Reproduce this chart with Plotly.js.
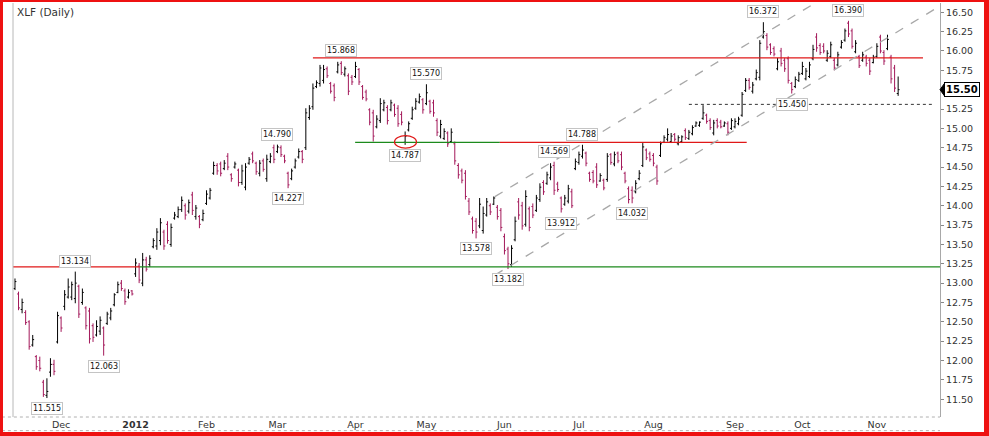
<!DOCTYPE html>
<html>
<head>
<meta charset="utf-8">
<script src="https://cdn.plot.ly/plotly-3.0.1.min.js"></script>
<style>
html,body{margin:0;padding:0;background:#fff;}
#wrap{position:relative;width:989px;height:436px;overflow:hidden;}
#chart{position:absolute;left:0;top:0;width:989px;height:436px;}
#frame{position:absolute;left:0;top:0;width:989px;height:436px;box-sizing:border-box;border-style:solid;border-color:#ee1111;border-width:2px 5px 4px 3px;pointer-events:none;}
</style>
</head>
<body>
<div id="wrap"><div id="chart"></div><div id="frame"></div></div>
<script>
// ---- data (XLF daily, 2011-11-11 .. 2012-11-09) ----
const symbolTitle = "XLF (Daily)";
const firstDay = "2011-11-11";
const lastDay = "2012-11-09";
const holidays = ["2011-11-24","2011-12-26","2012-01-02","2012-01-16","2012-02-20","2012-04-06","2012-05-28","2012-07-04","2012-09-03","2012-10-29","2012-10-30"];
const monthNames = ["Jan","Feb","Mar","Apr","May","Jun","Jul","Aug","Sep","Oct","Nov","Dec"];

const openP = [
12.93,12.86,12.66,12.62,12.50,12.20,12.05,12.00,11.72,11.55,11.85,11.95,12.24,12.55,12.70,12.82,12.82,12.80,12.96,12.75,
12.68,12.64,12.45,12.33,12.38,12.42,12.48,12.55,12.72,12.88,13.00,12.90,12.82,12.90,13.12,13.22,13.00,13.30,13.24,13.47,
13.48,13.55,13.66,13.76,13.50,13.84,13.86,13.95,14.00,13.93,14.14,13.86,13.86,13.82,14.03,14.10,14.42,14.52,14.54,14.48,
14.64,14.40,14.50,14.46,14.30,14.24,14.55,14.67,14.55,14.42,14.58,14.35,14.57,14.75,14.70,14.75,14.64,14.42,14.35,14.50,
14.63,14.70,14.75,15.14,15.28,15.54,15.58,15.62,15.77,15.58,15.55,15.73,15.84,15.70,15.68,15.66,15.67,15.76,15.54,15.47,
15.24,15.20,15.02,15.10,15.24,15.27,15.24,15.30,15.26,15.18,14.82,14.98,15.13,15.26,15.34,15.37,15.32,15.35,15.33,15.10,
14.90,14.87,14.94,14.83,14.80,14.52,14.45,14.42,14.06,13.83,13.80,13.74,13.68,13.88,14.00,14.02,13.98,13.94,13.60,13.44,
13.24,13.56,14.05,14.00,13.76,13.96,13.99,13.94,14.08,14.30,14.29,14.36,14.52,14.28,14.10,14.02,14.06,14.18,14.48,14.56,
14.64,14.68,14.42,14.43,14.50,14.32,14.33,14.34,14.66,14.54,14.68,14.66,14.42,14.22,14.20,14.18,14.35,14.52,14.72,14.67,
14.65,14.50,14.65,14.82,14.86,14.83,14.92,14.80,14.83,14.97,14.87,14.93,15.03,15.04,15.13,15.17,15.10,14.94,15.10,15.08,
15.03,15.06,15.00,15.02,15.06,15.17,15.49,15.62,15.48,15.64,15.66,16.18,16.20,16.08,16.03,15.77,16.00,15.88,15.90,15.58,
15.54,15.62,15.71,15.64,15.67,15.90,16.18,16.07,16.06,15.88,15.93,15.88,15.82,16.05,16.14,16.36,16.26,15.99,15.93,15.88,
15.92,15.88,15.85,15.93,16.18,15.98,16.03,15.92,15.78,15.45
];
const highP = [
13.06,12.89,12.80,12.65,12.52,12.33,12.07,12.05,11.75,11.77,12.03,12.01,12.63,12.57,12.91,13.06,13.02,13.149,12.98,12.93,
12.70,12.68,12.48,12.52,12.57,12.44,12.63,12.68,12.87,13.02,13.04,12.93,12.92,12.91,13.32,13.26,13.39,13.34,13.36,13.58,
13.71,13.84,13.69,13.80,13.77,13.92,13.99,14.12,14.03,14.08,14.18,14.01,13.88,13.95,14.20,14.23,14.57,14.55,14.57,14.59,
14.68,14.42,14.57,14.48,14.53,14.55,14.63,14.70,14.57,14.59,14.61,14.66,14.68,14.79,14.79,14.78,14.66,14.44,14.48,14.61,
14.74,14.72,15.26,15.30,15.58,15.62,15.82,15.82,15.80,15.60,15.58,15.86,15.868,15.80,15.71,15.69,15.86,15.78,15.56,15.50,
15.26,15.24,15.17,15.39,15.37,15.30,15.37,15.32,15.30,15.22,14.96,15.09,15.28,15.39,15.45,15.39,15.57,15.37,15.37,15.13,
15.11,15.00,14.96,15.00,14.83,14.55,14.48,14.46,14.10,13.86,13.84,14.10,13.99,14.10,14.03,14.12,14.01,13.97,13.64,13.47,
13.49,13.86,14.10,14.05,14.20,13.99,14.03,14.14,14.29,14.33,14.44,14.55,14.569,14.31,14.12,14.14,14.27,14.22,14.61,14.70,
14.788,14.70,14.44,14.46,14.55,14.42,14.35,14.68,14.68,14.70,14.70,14.70,14.44,14.25,14.25,14.33,14.46,14.81,14.74,14.70,
14.68,14.53,14.83,14.91,15.00,14.94,14.94,14.91,14.91,15.00,14.98,15.04,15.09,15.09,15.30,15.19,15.13,15.11,15.13,15.11,
15.09,15.09,15.13,15.13,15.15,15.47,15.65,15.65,15.60,15.76,16.14,16.372,16.23,16.10,16.06,15.91,16.04,15.91,15.93,15.60,
15.67,15.73,15.86,15.78,15.86,16.08,16.23,16.10,16.10,16.01,16.12,15.91,15.99,16.14,16.29,16.39,16.29,16.14,15.95,15.99,
15.95,15.91,15.95,16.10,16.21,16.01,16.21,15.95,15.82,15.67
];
const lowP = [
12.91,12.65,12.61,12.46,12.14,12.18,11.88,11.86,11.53,11.515,11.79,11.81,12.22,12.37,12.65,12.80,12.78,12.74,12.55,12.72,
12.40,12.22,12.24,12.31,12.33,12.063,12.46,12.52,12.70,12.87,12.90,12.72,12.80,12.84,13.08,13.00,12.96,13.15,13.21,13.45,
13.43,13.49,13.43,13.51,13.47,13.82,13.84,13.92,13.82,13.90,13.88,13.82,13.71,13.80,14.01,14.08,14.40,14.40,14.38,14.46,
14.46,14.31,14.48,14.25,14.27,14.20,14.53,14.55,14.40,14.38,14.44,14.31,14.55,14.55,14.68,14.63,14.55,14.227,14.33,14.48,
14.61,14.55,14.72,15.11,15.24,15.52,15.54,15.58,15.65,15.45,15.35,15.71,15.69,15.67,15.43,15.56,15.65,15.56,15.37,15.35,
15.04,14.83,15.00,15.07,15.22,15.05,15.22,15.15,15.02,15.04,14.787,14.96,15.11,15.24,15.32,15.19,15.30,15.19,15.15,14.90,
14.87,14.85,14.76,14.81,14.53,14.35,14.29,14.08,13.88,13.64,13.578,13.71,13.64,13.86,13.88,14.01,13.82,13.67,13.37,13.182,
13.21,13.54,13.82,13.69,13.73,13.67,13.84,13.92,14.05,14.14,14.27,14.33,14.14,14.18,13.912,14.00,14.03,13.97,14.46,14.53,
14.61,14.51,14.31,14.29,14.23,14.31,14.20,14.31,14.53,14.51,14.55,14.46,14.29,14.03,14.032,14.16,14.33,14.50,14.59,14.57,
14.51,14.27,14.63,14.81,14.83,14.81,14.83,14.78,14.81,14.85,14.85,14.91,15.02,15.02,15.11,15.06,14.98,14.91,15.00,15.00,
15.02,14.91,14.98,15.00,15.04,15.15,15.47,15.50,15.45,15.62,15.62,16.16,16.01,15.95,15.93,15.75,15.80,15.73,15.58,15.45,
15.52,15.60,15.69,15.62,15.65,15.88,15.99,15.95,15.97,15.86,15.91,15.75,15.80,16.03,16.12,16.18,16.03,15.97,15.78,15.86,
15.80,15.69,15.84,15.91,15.97,15.82,16.01,15.58,15.47,15.42
];
const closeP = [
13.02,12.68,12.75,12.49,12.18,12.27,11.92,11.90,11.56,11.60,11.95,11.86,12.58,12.42,12.85,12.95,12.98,13.00,12.60,12.88,
12.45,12.28,12.30,12.44,12.52,12.20,12.60,12.64,12.85,12.98,12.93,12.76,12.88,12.86,13.26,13.04,13.30,13.18,13.32,13.55,
13.66,13.78,13.48,13.55,13.72,13.88,13.95,14.07,13.88,14.04,13.94,13.97,13.76,13.90,14.15,14.20,14.52,14.45,14.42,14.55,
14.50,14.35,14.54,14.30,14.45,14.50,14.60,14.58,14.44,14.55,14.47,14.60,14.64,14.60,14.76,14.66,14.58,14.27,14.45,14.58,
14.70,14.60,15.20,15.26,15.52,15.59,15.78,15.76,15.68,15.48,15.40,15.82,15.72,15.77,15.48,15.60,15.80,15.60,15.40,15.38,
15.08,14.90,15.12,15.32,15.33,15.10,15.33,15.18,15.06,15.08,14.90,15.06,15.24,15.35,15.41,15.24,15.46,15.22,15.20,14.95,
15.05,14.96,14.80,14.95,14.58,14.40,14.33,14.12,13.92,13.68,13.66,14.02,13.90,14.05,13.92,14.10,13.86,13.72,13.42,13.25,
13.45,13.80,13.88,13.74,14.12,13.72,13.88,14.10,14.24,14.18,14.40,14.50,14.20,14.21,13.96,14.10,14.22,14.00,14.57,14.66,
14.72,14.55,14.34,14.32,14.27,14.39,14.23,14.64,14.56,14.66,14.58,14.50,14.32,14.08,14.10,14.29,14.42,14.76,14.62,14.60,
14.55,14.32,14.80,14.88,14.92,14.90,14.86,14.88,14.89,14.88,14.95,15.01,15.07,15.08,15.20,15.09,15.01,15.07,15.03,15.02,
15.07,14.95,15.10,15.09,15.12,15.44,15.62,15.53,15.56,15.72,16.10,16.25,16.05,15.98,15.96,15.86,15.84,15.77,15.62,15.50,
15.63,15.70,15.80,15.74,15.82,16.02,16.04,15.98,16.00,15.97,16.08,15.78,15.95,16.11,16.26,16.22,16.06,16.10,15.81,15.95,
15.84,15.74,15.92,16.06,16.00,15.87,16.15,15.64,15.52,15.50
];

// labelled swing points: [bar index, label text, side]
const pivotIdx  = [9, 17, 25, 74, 77, 92, 110, 116, 130, 139, 152, 154, 160, 174, 211, 219, 235];
const pivotText = ["11.515","13.134","12.063","14.790","14.227","15.868","14.787","15.570","13.578","13.182","14.569","13.912","14.788","14.032","16.372","15.450","16.390"];
const pivotSide = ["low","high","low","high","low","high","low","high","low","low","high","low","high","low","high","low","high"];

// ---- build trading-day dates ----
const dates = [];
(function(){
  const d = new Date(firstDay + "T00:00:00Z");
  const end = new Date(lastDay + "T00:00:00Z");
  while (d <= end) {
    const s = d.toISOString().slice(0,10);
    const wd = d.getUTCDay();
    if (wd !== 0 && wd !== 6 && holidays.indexOf(s) < 0) dates.push(s);
    d.setUTCDate(d.getUTCDate()+1);
  }
})();

const tickVals = [], tickText = [];
for (let i = 1; i < dates.length; i++) {
  if (dates[i].slice(5,7) !== dates[i-1].slice(5,7)) {
    const m = parseInt(dates[i].slice(5,7),10)-1;
    tickVals.push(dates[i]);
    tickText.push(m === 0 ? "<b>" + dates[i].slice(0,4) + "</b>" : monthNames[m]);
  }
}
const lastClose = closeP[closeP.length-1];
const yTicks = [], yTickText = [];
for (let v = 11.5; v <= 16.5001; v += 0.25) {
  const r = +v.toFixed(2);
  yTicks.push(r);
  yTickText.push(Math.abs(r - lastClose) < 0.001 ? "" : r.toFixed(2));
}

const FONT = "DejaVu Sans, Verdana, sans-serif";
const UP = "#000000", DOWN = "#a3185a";

const trace = {
  type: "ohlc",
  x: dates, open: openP, high: highP, low: lowP, close: closeP,
  increasing: {line: {color: UP, width: 1}},
  decreasing: {line: {color: DOWN, width: 1}},
  tickwidth: 0.4,
  showlegend: false
};

const annotations = [];
pivotIdx.forEach((ix, k) => {
  const isHigh = pivotSide[k] === "high";
  annotations.push({
    x: ix, y: isHigh ? highP[ix] : lowP[ix], xref: "x", yref: "y",
    text: pivotText[k], showarrow: false,
    yanchor: isHigh ? "bottom" : "top", yshift: isHigh ? 4 : -4,
    font: {family: FONT, size: 8, color: "#111"},
    bgcolor: "#ffffff", bordercolor: "#c4c4c4", borderwidth: 1, borderpad: 1
  });
});
annotations.push({
  xref: "paper", yref: "paper", x: 0, y: 1, xanchor: "left", yanchor: "top",
  xshift: 2, yshift: -1, text: symbolTitle, showarrow: false,
  font: {family: FONT, size: 10.5, color: "#333"}
});
annotations.push({
  xref: "paper", yref: "y", x: 1, y: lastClose, xanchor: "left", yanchor: "middle",
  xshift: 4, text: "<b>" + lastClose.toFixed(2) + "</b>", showarrow: false,
  font: {family: FONT, size: 10, color: "#000"},
  bgcolor: "#ffffff", bordercolor: "#000", borderwidth: 1, borderpad: 1
});

const RED = "#e01818", GREEN = "#1c8a1c";
const slope = 0.0277;
const chStart = 135.3;
const px = 1/927, pu = 1/77.4;
const shapes = [
  {type:"line", xref:"x", yref:"y", x0:-0.6, x1:35.2, y0:13.21, y1:13.21, line:{color:RED, width:1.2}},
  {type:"line", xref:"x", yref:"y", x0:35.2, x1:261, y0:13.21, y1:13.21, line:{color:GREEN, width:1.2}},
  {type:"line", xref:"x", yref:"y", x0:84, x1:256, y0:15.91, y1:15.91, line:{color:RED, width:1.2}},
  {type:"line", xref:"x", yref:"y", x0:95.9, x1:136.7, y0:14.82, y1:14.82, line:{color:GREEN, width:1.2}},
  {type:"line", xref:"x", yref:"y", x0:136.7, x1:206.3, y0:14.82, y1:14.82, line:{color:RED, width:1.2}},
  {type:"line", xref:"x", yref:"y", x0:190, x1:258.5, y0:15.31, y1:15.31, line:{color:"#333", width:1, dash:"dot"}},
  {type:"circle", xref:"x", yref:"y", x0:107, x1:113.2, y0:14.745, y1:14.905, line:{color:RED, width:1.2}},
  {type:"line", xref:"x", yref:"y", x0:chStart, x1:225.6, y0:14.118, y1:14.118+slope*(225.6-chStart), line:{color:"#a8a8a8", width:1.3, dash:"dash"}},
  {type:"line", xref:"x", yref:"y", x0:chStart, x1:260.8, y0:13.105, y1:13.105+slope*(260.8-chStart), line:{color:"#a8a8a8", width:1.3, dash:"dash"}},
  {type:"line", xref:"paper", yref:"paper", x0:0, x1:0, y0:0, y1:1, line:{color:"#b8b8b8", width:1}},
  {type:"line", xref:"paper", yref:"paper", x0:-0.012, x1:1, y0:0, y1:0, line:{color:"#b0b0b0", width:1, dash:"dot"}},
  {type:"line", xref:"paper", yref:"paper", x0:-0.012, x1:1, y0:-0.033, y1:-0.033, line:{color:"#b0b0b0", width:1, dash:"dot"}},
  {type:"path", xref:"paper", yref:"y",
   path: "M " + (1+0*px) + "," + lastClose + " L " + (1+5*px) + "," + (lastClose+7*pu) + " L " + (1+5*px) + "," + (lastClose-7*pu) + " Z",
   fillcolor:"#000", line:{color:"#000", width:1}}
];

const layout = {
  width: 989, height: 436,
  margin: {l: 13, r: 49, t: 3, b: 19, pad: 0},
  paper_bgcolor: "#ffffff", plot_bgcolor: "#ffffff",
  font: {family: FONT, size: 9.5, color: "#333"},
  xaxis: {
    type: "category", range: [-0.56, 260.8], rangeslider: {visible: false},
    tickmode: "array", tickvals: tickVals, ticktext: tickText,
    showgrid: false, zeroline: false, showline: false, ticks: "",
    tickfont: {family: FONT, size: 9.5, color: "#333"}, tickangle: 0
  },
  yaxis: {
    side: "right", range: [11.27, 16.62], tickmode: "array", tickvals: yTicks, ticktext: yTickText,
    showgrid: false, zeroline: false,
    showline: true, linecolor: "#a8a8a8", linewidth: 1, mirror: false,
    ticks: "outside", ticklen: 3, tickcolor: "#888",
    tickfont: {family: FONT, size: 9.5, color: "#333"}
  },
  shapes: shapes,
  annotations: annotations,
  hovermode: false
};

Plotly.newPlot("chart", [trace], layout, {displayModeBar: false, staticPlot: true});
</script>
</body>
</html>
